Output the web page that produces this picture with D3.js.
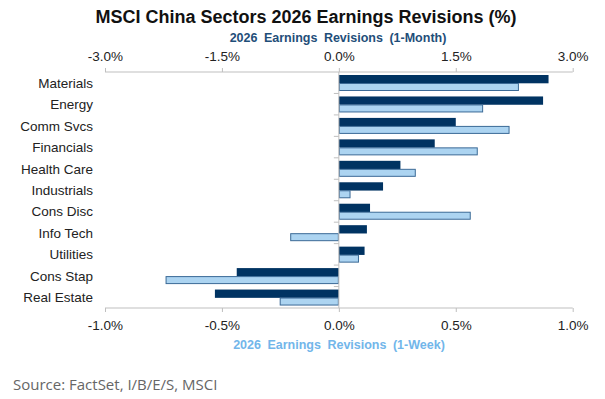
<!DOCTYPE html>
<html>
<head>
<meta charset="utf-8">
<script src="https://cdn.jsdelivr.net/npm/d3@7"></script>
<style>
  body { margin: 0; background: #fff; }
  svg { display: block; font-family: "Liberation Sans", Arial, sans-serif; }
</style>
</head>
<body>
<div id="chart"></div>
<script>
const sectors = ["Materials", "Energy", "Comm Svcs", "Financials", "Health Care",
  "Industrials", "Cons Disc", "Info Tech", "Utilities", "Cons Stap", "Real Estate"];
// 1-month revisions (%), top axis
const month = [2.69, 2.62, 1.50, 1.23, 0.79, 0.567, 0.40, 0.36, 0.33, -1.31, -1.59];
// 1-week revisions (%), bottom axis
const week = [0.77, 0.617, 0.73, 0.594, 0.329, 0.05, 0.564, -0.208, 0.086, -0.741, -0.253];
const topTicks = [-3, -1.5, 0, 1.5, 3];
const bottomTicks = [-1, -0.5, 0, 0.5, 1];

const rows = sectors.map((s, i) => ({ sector: s, month: month[i], week: week[i] }));

const W = 605, H = 399;
const plotLeft = 105, plotRight = 572.7, plotTop = 72, plotBottom = 308;

const svg = d3.select("#chart").append("svg")
  .attr("width", W).attr("height", H);

const xTop = d3.scaleLinear().domain([-3, 3]).range([plotLeft, plotRight]);
const xBot = d3.scaleLinear().domain([-1, 1]).range([plotLeft, plotRight]);
const y = d3.scaleBand().domain(sectors).range([plotTop, plotBottom]);
const sub = d3.scaleBand().domain(["month", "week"]).range([3, 19]);

// plain hyphen for negatives, like the original
const fmt = d => d.toFixed(1) + "%";

// title
svg.append("text").attr("x", 306).attr("y", 23)
  .attr("text-anchor", "middle").attr("font-weight", "bold")
  .attr("font-size", 18).attr("fill", "#111")
  .text("MSCI China Sectors 2026 Earnings Revisions (%)");

svg.append("text").attr("x", 338).attr("y", 41.5)
  .attr("text-anchor", "middle").attr("font-weight", "bold")
  .attr("font-size", 12.5).attr("fill", "#1f4e79").attr("word-spacing", 3)
  .text("2026 Earnings Revisions (1-Month)");

// top axis
const gTop = svg.append("g").attr("transform", `translate(0,${plotTop})`)
  .call(d3.axisTop(xTop).tickValues(topTicks).tickFormat(fmt).tickSize(4).tickPadding(7));

// bottom axis
const gBot = svg.append("g").attr("transform", `translate(0,${plotBottom})`)
  .call(d3.axisBottom(xBot).tickValues(bottomTicks).tickFormat(fmt).tickSize(4).tickPadding(8));

[gTop, gBot].forEach(g => {
  g.attr("font-family", null);
  g.select(".domain").attr("stroke", "#bfbfbf").attr("d", `M${plotLeft},0H${plotRight}`);
  g.selectAll(".tick line").attr("stroke", "#bfbfbf");
  g.selectAll(".tick text").attr("font-size", 13.5).attr("fill", "#222");
});

svg.append("text").attr("x", 339).attr("y", 348.5)
  .attr("text-anchor", "middle").attr("font-weight", "bold")
  .attr("font-size", 12.5).attr("fill", "#72b6ea").attr("word-spacing", 3)
  .text("2026 Earnings Revisions (1-Week)");

// bars
const grp = svg.append("g");
grp.selectAll(".m").data(rows).join("rect")
  .attr("class", "m")
  .attr("x", d => Math.min(xTop(0), xTop(d.month)))
  .attr("y", d => y(d.sector) + sub("month"))
  .attr("width", d => Math.abs(xTop(d.month) - xTop(0)))
  .attr("height", sub.bandwidth() + 0.3)
  .attr("fill", "#003362");

grp.selectAll(".w").data(rows).join("rect")
  .attr("class", "w")
  .attr("x", d => Math.min(xBot(0), xBot(d.week)) + 0.5)
  .attr("y", d => y(d.sector) + sub("week") + 0.5)
  .attr("width", d => Math.max(0, Math.abs(xBot(d.week) - xBot(0)) - 1))
  .attr("height", sub.bandwidth() - 1)
  .attr("fill", "#acd4f1")
  .attr("stroke", "#3b6a96").attr("stroke-width", 1);

// zero axis with category ticks
const zx = xTop(0);
const gZero = svg.append("g");
gZero.append("line").attr("x1", zx).attr("x2", zx).attr("y1", plotTop).attr("y2", plotBottom)
  .attr("stroke", "#bfbfbf");
gZero.selectAll("line.t").data(sectors.slice(1)).join("line")
  .attr("class", "t")
  .attr("x1", zx - 5).attr("x2", zx)
  .attr("y1", d => y(d)).attr("y2", d => y(d))
  .attr("stroke", "#bfbfbf");

// category labels
svg.append("g").selectAll("text").data(sectors).join("text")
  .attr("x", 93).attr("y", d => y(d) + y.bandwidth() / 2 + 5)
  .attr("text-anchor", "end").attr("font-size", 13.5).attr("fill", "#222")
  .text(d => d);

// source
svg.append("text").attr("x", 13).attr("y", 390)
  .attr("font-family", "Open Sans, Noto Sans, sans-serif")
  .attr("font-size", 15).attr("fill", "#666")
  .text("Source: FactSet, I/B/E/S, MSCI");
</script>
</body>
</html>
